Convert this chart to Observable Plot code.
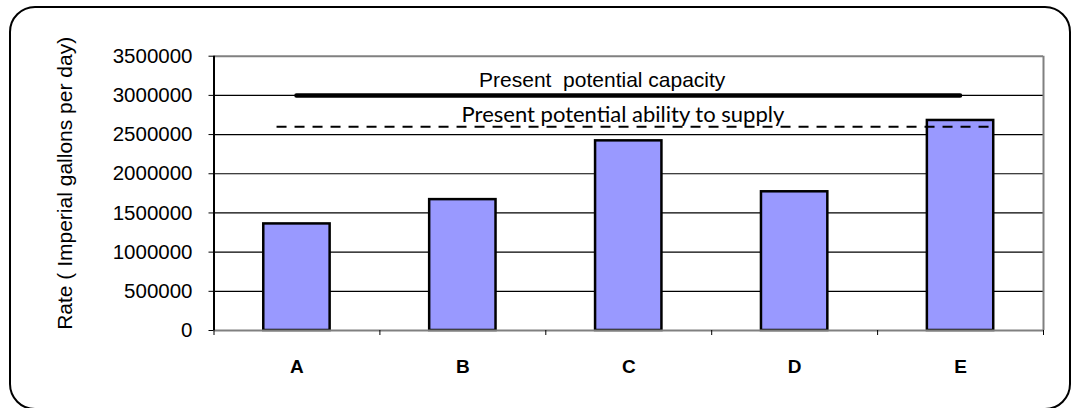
<!DOCTYPE html>
<html>
<head>
<meta charset="utf-8">
<script src="https://cdn.jsdelivr.net/npm/d3@7"></script>
<script src="https://cdn.jsdelivr.net/npm/@observablehq/plot@0.6"></script>
<style>
  html, body { margin: 0; padding: 0; background: #fff; }
  #wrap { position: relative; width: 1071px; height: 408px; overflow: hidden; }
  #border {
    position: absolute; left: 9px; top: 6px; width: 1058px; height: 400px;
    border: 2px solid #000; border-radius: 26px; pointer-events: none;
  }
  #chart { position: absolute; left: 0; top: 0; }
</style>
</head>
<body>
<div id="wrap">
  <div id="chart"></div>
  <div id="border"></div>
</div>
<script>
// Daily rates by scenario (Imperial gallons per day)
const categories = ["A", "B", "C", "D", "E"];
const rates = [1360000, 1670000, 2420000, 1770000, 2680000];

// Reference levels
const capacityLevel = 3000000;
const supplyLevel = 2600000;
const capacityLabel = "Present  potential capacity";
const supplyLabel = "Present potential ability to supply";

// Extent of each reference line along the category axis (category index units)
const capacitySpan = [0, 4];
const supplySpan = [-0.12, 4.22];
// Label anchors [x index, y value]
const capacityLabelAt = [1.84, 3105000];
const supplyLabelAt = [1.965, 2658000];

const yTicks = [0, 500000, 1000000, 1500000, 2000000, 2500000, 3000000, 3500000];
const gridValues = [500000, 1000000, 1500000, 2000000, 2500000, 3000000];
const yLabel = "Rate ( Imperial gallons per day)";

const rows = categories.map((c, i) => ({cat: c, i, value: rates[i]}));
const boundaries = d3.range(-0.5, categories.length, 1);

const chart = Plot.plot({
  width: 1071,
  height: 408,
  marginLeft: 213.5,
  marginRight: 28,
  marginTop: 55.7,
  marginBottom: 78,
  style: {fontFamily: "'Liberation Sans', Arial, sans-serif", fontSize: "20.5px", color: "#000", background: "transparent"},
  x: {type: "linear", domain: [-0.5, categories.length - 0.5]},
  y: {domain: [0, 3500000]},
  marks: [
    // horizontal gridlines
    Plot.ruleY(gridValues, {stroke: "#000", strokeWidth: 1.2}),
    // plot-area frame
    Plot.ruleY([3500000], {stroke: "#808080", strokeWidth: 2}),
    Plot.ruleX([categories.length - 0.5], {stroke: "#808080", strokeWidth: 2}),
    // bars
    Plot.rectY(rows, {x1: d => d.i - 0.2, x2: d => d.i + 0.2, y: "value", fill: "#9999ff", stroke: "#000", strokeWidth: 2.5}),
    Plot.ruleY([0], {stroke: "#808080", strokeWidth: 2}),
    Plot.ruleX([-0.5], {stroke: "#000", strokeWidth: 2}),
    // y axis
    Plot.axisY({ticks: yTicks, tickFormat: d => String(d), tickSize: 5, tickPadding: 16.5, label: null, fontSize: 20.5}),
    // x axis: boundary ticks, then category labels
    Plot.axisX({ticks: boundaries, tickFormat: () => "", tickSize: 5, label: null}),
    Plot.axisX({ticks: d3.range(categories.length), tickFormat: i => categories[i], tickSize: 0, tickPadding: 29, label: null, fontSize: 19, fontWeight: "bold"}),
    // y axis title
    Plot.text([yLabel], {frameAnchor: "left", textAnchor: "middle", dx: -148.5, dy: -10, rotate: -90, fontSize: 21}),
    // reference lines
    Plot.ruleY([supplyLevel], {x1: supplySpan[0], x2: supplySpan[1], stroke: "#000", strokeWidth: 2, strokeDasharray: "10,8"}),
    Plot.ruleY([capacityLevel], {x1: capacitySpan[0], x2: capacitySpan[1], stroke: "#000", strokeWidth: 4.5, strokeLinecap: "round"}),
    // reference line labels
    Plot.text([capacityLabel], {x: () => capacityLabelAt[0], y: () => capacityLabelAt[1], lineAnchor: "bottom", fontSize: 21}),
    Plot.text([supplyLabel], {x: () => supplyLabelAt[0], y: () => supplyLabelAt[1], lineAnchor: "bottom", fontSize: 22, fontFamily: "Lato, 'Open Sans', sans-serif"})
  ]
});
document.getElementById("chart").appendChild(chart);
</script>
</body>
</html>
